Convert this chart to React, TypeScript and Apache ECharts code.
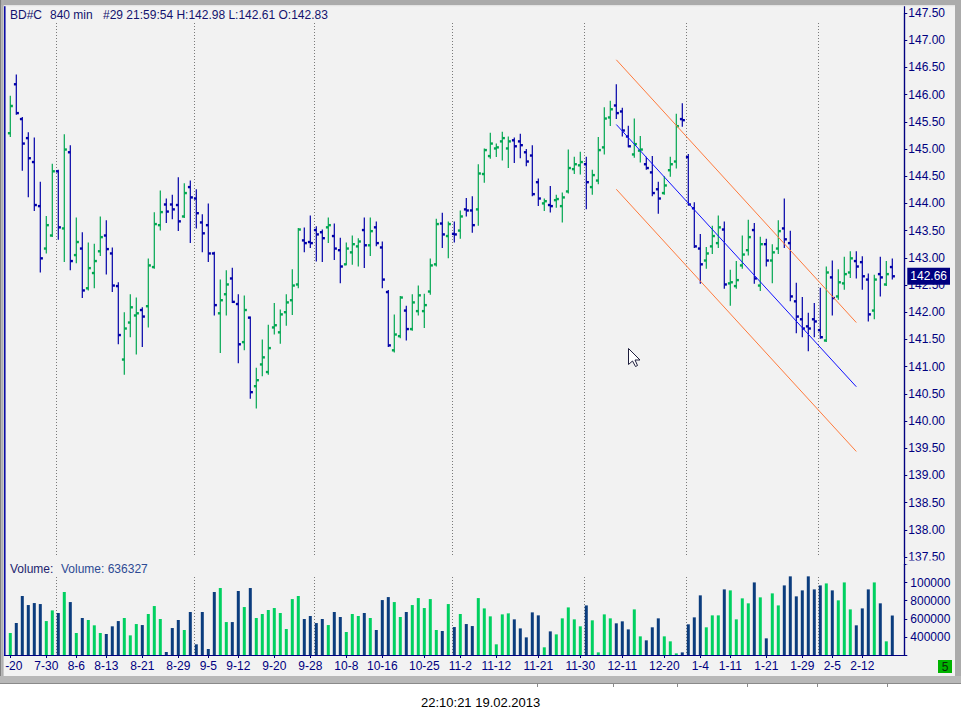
import React, { useEffect, useRef } from "react";
import * as echarts from "echarts";

// ---- data ----
const opens = [
  145.29, 146.19, 145.55, 145.20, 144.76, 143.95, 143.17, 143.41, 144.59, 143.54,
  144.94, 143.05, 143.17, 142.44, 142.72, 143.12, 143.41, 143.08, 142.48, 141.13,
  141.81, 141.94, 142.04, 142.11, 142.83, 143.60, 143.98, 143.98, 143.97, 143.76,
  144.30, 144.09, 143.65, 143.60, 143.08, 141.98, 142.33, 142.62, 142.15, 141.45,
  141.90, 140.64, 141.04, 140.90, 141.72, 141.63, 142.00, 142.22, 142.51, 143.32,
  143.29, 143.51, 143.47, 143.56, 143.40, 143.14, 142.88, 143.10, 143.21, 143.51,
  143.23, 143.56, 143.19, 142.37, 141.30, 141.56, 142.03, 141.69, 142.02, 142.02,
  142.38, 142.88, 143.63, 143.40, 143.44, 143.50, 143.89, 143.87, 143.89, 144.54,
  144.87, 145.01, 145.14, 145.01, 145.16, 145.14, 144.94, 144.88, 144.39, 144.00,
  143.97, 144.06, 143.95, 144.22, 144.63, 144.70, 144.72, 144.30, 144.42, 145.03,
  145.58, 145.80, 145.69, 145.23, 144.90, 144.97, 144.72, 144.57, 144.26, 144.19,
  144.61, 144.77, 145.55, 144.85, 143.91, 143.17, 142.95, 143.21, 143.27, 143.52,
  142.53, 142.48, 142.86, 143.14, 143.51, 142.49, 143.25, 142.95, 143.17, 143.54,
  143.27, 142.20, 141.87, 141.74, 141.87, 141.67, 141.48, 142.64, 142.29, 142.53,
  142.73, 142.94, 142.92, 142.60, 142.03, 142.70, 142.51, 142.83,
];
const highs = [
  145.97, 146.36, 145.58, 145.30, 145.20, 144.39, 143.76, 144.72, 144.61, 145.26,
  145.06, 143.73, 143.46, 143.27, 143.25, 143.75, 143.68, 143.18, 142.54, 141.99,
  142.32, 142.26, 142.08, 142.98, 143.83, 144.23, 144.08, 144.15, 144.47, 144.36,
  144.41, 144.25, 143.79, 143.99, 143.10, 142.59, 142.76, 142.81, 142.32, 142.30,
  141.91, 140.97, 141.49, 141.76, 142.16, 142.04, 142.32, 142.78, 143.54, 143.55,
  143.77, 143.57, 143.51, 143.73, 143.62, 143.36, 143.27, 143.40, 143.35, 143.73,
  143.73, 143.66, 143.29, 142.40, 141.95, 142.29, 142.11, 142.32, 142.48, 142.33,
  142.98, 143.71, 143.82, 143.66, 143.66, 143.86, 144.09, 144.12, 144.71, 145.00,
  145.29, 145.09, 145.31, 145.22, 145.20, 145.27, 144.99, 145.06, 144.45, 144.08,
  144.31, 144.15, 144.19, 144.98, 144.85, 144.94, 144.85, 144.61, 145.21, 145.76,
  145.88, 146.18, 145.75, 145.42, 145.55, 145.23, 144.85, 144.86, 144.39, 144.49,
  144.85, 145.64, 145.83, 144.90, 144.01, 143.43, 143.19, 143.58, 143.77, 143.66,
  142.77, 142.93, 143.40, 143.69, 143.63, 143.38, 143.34, 143.24, 143.68, 144.08,
  143.49, 142.53, 142.27, 141.98, 142.16, 142.44, 142.83, 142.94, 142.78, 143.01,
  143.11, 143.11, 143.02, 142.70, 142.68, 143.01, 142.93, 142.98,
];
const lows = [
  145.23, 145.64, 144.61, 144.12, 143.87, 142.74, 143.09, 143.39, 143.34, 142.93,
  142.78, 142.91, 142.27, 142.41, 142.45, 143.04, 142.70, 142.38, 141.42, 140.86,
  141.55, 141.23, 141.37, 141.73, 142.81, 143.51, 143.65, 143.72, 143.50, 143.74,
  143.28, 143.55, 143.11, 142.93, 141.95, 141.26, 141.95, 142.18, 141.07, 141.31,
  140.42, 140.24, 140.83, 140.86, 141.60, 141.43, 141.76, 141.96, 142.45, 143.11,
  143.19, 142.94, 142.93, 143.28, 142.97, 142.54, 142.87, 142.88, 142.85, 142.82,
  143.04, 143.22, 142.45, 141.37, 141.27, 141.53, 141.49, 141.67, 141.95, 141.72,
  142.33, 142.85, 143.19, 143.00, 143.29, 143.36, 143.77, 143.47, 143.60, 144.39,
  144.83, 144.86, 144.80, 144.66, 144.75, 144.84, 144.69, 144.14, 143.96, 143.87,
  143.84, 143.93, 143.66, 144.19, 144.55, 144.54, 143.90, 144.17, 144.36, 144.91,
  145.43, 145.56, 145.24, 145.04, 144.85, 144.76, 144.63, 144.14, 143.82, 144.17,
  144.50, 144.65, 145.42, 143.97, 143.19, 142.53, 142.81, 143.08, 143.19, 142.44,
  142.13, 142.44, 142.81, 143.05, 142.53, 142.40, 142.85, 142.54, 143.08, 143.19,
  142.21, 141.62, 141.55, 141.29, 141.55, 141.52, 141.46, 141.95, 142.24, 142.42,
  142.64, 142.63, 142.42, 141.84, 141.88, 142.30, 142.49, 142.61,
];
const closes = [
  145.79, 145.66, 145.10, 144.83, 143.97, 142.99, 143.60, 144.59, 143.56, 144.99,
  142.94, 143.29, 142.40, 142.81, 142.94, 143.38, 143.16, 142.49, 141.58, 141.70,
  142.09, 141.98, 141.92, 142.86, 143.62, 143.84, 143.85, 143.89, 143.67, 144.19,
  144.11, 143.82, 143.45, 143.08, 142.13, 142.22, 142.51, 142.19, 141.41, 142.04,
  140.53, 140.75, 141.17, 141.34, 141.76, 141.96, 142.18, 142.49, 143.52, 143.27,
  143.27, 143.43, 143.36, 143.60, 143.17, 142.84, 143.17, 143.25, 143.30, 143.23,
  143.49, 143.27, 142.60, 141.39, 141.59, 142.27, 141.69, 142.18, 142.31, 142.13,
  142.86, 143.62, 143.43, 143.62, 143.43, 143.76, 143.87, 143.60, 144.55, 144.98,
  145.10, 145.03, 145.20, 145.14, 145.05, 145.07, 144.77, 144.17, 144.09, 144.04,
  143.95, 144.08, 144.11, 144.65, 144.72, 144.76, 144.39, 144.52, 144.98, 145.56,
  145.73, 145.66, 145.34, 145.05, 145.09, 144.99, 144.65, 144.19, 144.09, 144.33,
  144.72, 145.42, 145.53, 143.98, 143.21, 142.88, 143.08, 143.40, 143.56, 142.51,
  142.55, 142.59, 143.06, 143.38, 142.62, 143.25, 142.95, 143.10, 143.49, 143.34,
  142.29, 141.92, 141.70, 141.70, 141.83, 141.54, 142.73, 142.26, 142.55, 142.70,
  142.99, 142.84, 142.66, 141.96, 142.60, 142.64, 142.70, 142.66,
];
const volumes = [
  443000, 553000, 852000, 752000, 774000, 763000, 575000, 693000, 664000, 896000,
  785000, 443000, 609000, 587000, 528000, 443000, 432000, 517000, 575000, 609000,
  417000, 542000, 531000, 653000, 741000, 598000, 233000, 498000, 587000, 476000,
  675000, 318000, 675000, 266000, 896000, 940000, 564000, 564000, 907000, 730000,
  940000, 609000, 653000, 697000, 719000, 664000, 487000, 818000, 852000, 598000,
  631000, 553000, 598000, 531000, 675000, 620000, 454000, 653000, 631000, 664000,
  609000, 476000, 807000, 840000, 785000, 620000, 675000, 752000, 829000, 719000,
  818000, 476000, 465000, 763000, 509000, 653000, 542000, 520000, 829000, 715000,
  627000, 318000, 649000, 660000, 594000, 494000, 395000, 671000, 638000, 285000,
  461000, 428000, 605000, 726000, 594000, 517000, 748000, 583000, 229000, 649000,
  605000, 550000, 572000, 483000, 704000, 406000, 362000, 506000, 605000, 406000,
  351000, 218000, 229000, 539000, 616000, 859000, 506000, 638000, 638000, 925000,
  914000, 594000, 826000, 771000, 1002000, 837000, 384000, 881000, 748000, 969000,
  1069000, 848000, 914000, 1069000, 925000, 969000, 991000, 914000, 804000, 1002000,
  704000, 528000, 715000, 925000, 1002000, 771000, 351000, 636327,
];
// category slot of each x-axis label
const tickCats = [1, 7, 12, 17, 23, 29, 34, 39, 45, 51, 57, 63, 70, 76, 82, 89, 96, 103, 110, 116, 121, 127, 133, 138, 143];
const tickLabels = ["-20", "7-30", "8-6", "8-13", "8-21", "8-29", "9-5", "9-12", "9-20", "9-28", "10-8", "10-16", "10-25", "11-2", "11-12", "11-21", "11-30", "12-11", "12-20", "1-4", "1-11", "1-21", "1-29", "2-5", "2-12"];
// month separators (category slot)
const sepCats = [9, 32, 52, 75, 97, 114, 136];
// price channel (category slot, price)
const chanCats = [102, 142];
const chanUpper = [146.64, 141.81];
const chanMid = [145.45, 140.63];
const chanLower = [144.26, 139.44];
const priceTicks = { min: 137.5, max: 147.5, step: 0.5 };
const volTicks = { min: 200000, max: 1200000, step: 200000, shown: [400000, 600000, 800000, 1000000] };

const FONT = "'Liberation Sans', Arial, sans-serif";
const NAVY = "#000080";
const UP = "#00A651";
const DOWN = "#0000A8";
const VUP = "#00D060";
const VDOWN = "#0B3C7D";
const ORANGE = "#FF7A3C";

export default function App() {
  const ref = useRef<HTMLDivElement>(null);

  useEffect(() => {
    if (!ref.current) return;
    const chart = echarts.init(ref.current, undefined, { renderer: "svg" });
    const nCats = opens.length + 3;
    const cats = Array.from({ length: nCats }, (_, i) => String(i));
    const ohlc = opens.map((o, i) => [i + 1, o, closes[i], lows[i], highs[i]]);
    const vol = volumes.map((v, i) => ({
      value: [i + 1, v],
      itemStyle: { color: closes[i] >= opens[i] ? VUP : VDOWN },
    }));
    const tickSet = new Set(tickCats);
    const labelOf = (idx: number) => {
      const k = tickCats.indexOf(idx);
      return k < 0 ? "" : tickLabels[k];
    };
    const lastClose = closes[closes.length - 1];

    const sepRender = (topOff: number) => (params: any, api: any) => {
      const x = Math.round(api.coord([api.value(0), api.value(1)])[0] - 2) + 0.5;
      const cs = params.coordSys;
      return {
        type: "line",
        shape: { x1: x, y1: cs.y + topOff, x2: x, y2: cs.y + cs.height },
        style: { stroke: "#7a7a7a", lineWidth: 1, lineDash: [1, 2] },
        silent: true,
      };
    };

    const option: any = {
      animation: false,
      backgroundColor: "#ffffff",
      grid: [
        { left: 4.3, right: 56.7, top: 13, height: 544, containLabel: false, outerBoundsMode: "none" },
        { left: 4.3, right: 56.7, top: 564.5, height: 90.5, containLabel: false, outerBoundsMode: "none" },
      ],
      xAxis: [
        { type: "category", gridIndex: 0, data: cats, boundaryGap: false, show: false },
        {
          type: "category",
          gridIndex: 1,
          data: cats,
          boundaryGap: false,
          axisLine: { show: true, lineStyle: { color: NAVY, width: 1.2 } },
          axisTick: { show: true, length: 3, interval: (i: number) => tickSet.has(i), lineStyle: { color: NAVY } },
          axisLabel: {
            interval: (i: number) => tickSet.has(i),
            formatter: (_v: string, i: number) => (i === tickCats[0] ? "{a|" + labelOf(i) + "}" : labelOf(i)),
            margin: 5,
            color: NAVY,
            fontSize: 12,
            fontFamily: FONT,
            rich: { a: { padding: [0, 0, 0, 7], color: NAVY, fontSize: 12, fontFamily: FONT } },
          },
          splitLine: { show: false },
        },
      ],
      yAxis: [
        {
          type: "value",
          gridIndex: 0,
          position: "right",
          min: priceTicks.min,
          max: priceTicks.max,
          interval: priceTicks.step,
          axisLine: { show: true, lineStyle: { color: NAVY, width: 1.2 } },
          axisTick: { show: true, length: 3, lineStyle: { color: NAVY } },
          axisLabel: {
            margin: 4,
            color: NAVY,
            fontSize: 12,
            fontFamily: FONT,
            showMinLabel: true,
            showMaxLabel: true,
            formatter: (v: number) => v.toFixed(2),
          },
          splitLine: { show: false },
        },
        {
          type: "value",
          gridIndex: 1,
          position: "right",
          min: volTicks.min,
          max: volTicks.max,
          interval: volTicks.step,
          axisLine: { show: true, lineStyle: { color: NAVY, width: 1.2 } },
          axisTick: { show: true, length: 3, lineStyle: { color: NAVY } },
          axisLabel: {
            margin: 6,
            color: NAVY,
            fontSize: 12,
            fontFamily: FONT,
            formatter: (v: number) =>
              volTicks.shown.indexOf(v) < 0 ? "" : v === 1000000 ? "100000" : String(v),
          },
          splitLine: { show: false },
        },
      ],
      series: [
        {
          type: "custom",
          name: "sepPrice",
          xAxisIndex: 0,
          yAxisIndex: 0,
          silent: true,
          z: 1,
          data: sepCats.map((c) => [c, 140]),
          encode: { x: 0, y: 1 },
          renderItem: sepRender(10),
        },
        {
          type: "custom",
          name: "sepVol",
          xAxisIndex: 1,
          yAxisIndex: 1,
          silent: true,
          z: 1,
          data: sepCats.map((c) => [c, 300000]),
          encode: { x: 0, y: 1 },
          renderItem: sepRender(12.5),
        },
        {
          type: "custom",
          name: "BD#C",
          xAxisIndex: 0,
          yAxisIndex: 0,
          data: ohlc,
          encode: { x: 0, y: [1, 2, 3, 4] },
          z: 3,
          renderItem: (_params: any, api: any) => {
            const cat = api.value(0);
            const o = api.value(1);
            const c = api.value(2);
            const pO = api.coord([cat, o]);
            const pC = api.coord([cat, c]);
            const pL = api.coord([cat, api.value(3)]);
            const pH = api.coord([cat, api.value(4)]);
            const x = pO[0];
            const col = c >= o ? UP : DOWN;
            return {
              type: "group",
              children: [
                { type: "line", shape: { x1: x, y1: pH[1] - 0.5, x2: x, y2: pL[1] + 0.5 }, style: { stroke: col, lineWidth: 1.2 } },
                { type: "rect", shape: { x: x - 2.4, y: pO[1] - 1.2, width: 2.4, height: 2.4 }, style: { fill: col } },
                { type: "rect", shape: { x: x, y: pC[1] - 1.2, width: 2.6, height: 2.4 }, style: { fill: col } },
              ],
            };
          },
        },
        {
          type: "line",
          name: "upper",
          xAxisIndex: 0,
          yAxisIndex: 0,
          data: chanCats.map((c, i) => [c, chanUpper[i]]),
          symbol: "none",
          silent: true,
          z: 4,
          lineStyle: { color: ORANGE, width: 1 },
        },
        {
          type: "line",
          name: "lower",
          xAxisIndex: 0,
          yAxisIndex: 0,
          data: chanCats.map((c, i) => [c, chanLower[i]]),
          symbol: "none",
          silent: true,
          z: 4,
          lineStyle: { color: ORANGE, width: 1 },
        },
        {
          type: "line",
          name: "mid",
          xAxisIndex: 0,
          yAxisIndex: 0,
          data: chanCats.map((c, i) => [c, chanMid[i]]),
          symbol: "none",
          silent: true,
          z: 4,
          lineStyle: { color: "#1010FF", width: 1 },
        },
        {
          type: "line",
          name: "last",
          xAxisIndex: 0,
          yAxisIndex: 0,
          data: [],
          symbol: "none",
          silent: true,
          z: 20,
          markLine: {
            silent: true,
            symbol: "none",
            animation: false,
            lineStyle: { color: "rgba(0,0,0,0)", width: 0, opacity: 1 },
            data: [{ yAxis: lastClose }],
            label: {
              show: true,
              position: "end",
              distance: 3,
              formatter: () => lastClose.toFixed(2),
              color: "#ffffff",
              backgroundColor: NAVY,
              opacity: 1,
              padding: [3, 3, 2, 3],
              fontSize: 12,
              fontFamily: FONT,
            },
            emphasis: { disabled: true },
          },
        },
        {
          type: "bar",
          name: "Volume",
          xAxisIndex: 1,
          yAxisIndex: 1,
          data: vol,
          barWidth: 3,
          z: 3,
        },
      ],
      graphic: [
        { type: "rect", z: -100, silent: true, shape: { x: 0, y: 0, width: 961, height: 683 }, style: { fill: "#F2F2F2" } },
        // frame
        { type: "rect", z: 100, silent: true, shape: { x: 0, y: 0, width: 961, height: 5 }, style: { fill: "#ABABAB" } },
        { type: "rect", z: 100, silent: true, shape: { x: 0, y: 5, width: 961, height: 1.2 }, style: { fill: "#E4E4E4" } },
        { type: "rect", z: 100, silent: true, shape: { x: 0, y: 0, width: 1.2, height: 683 }, style: { fill: "#808080" } },
        { type: "rect", z: 100, silent: true, shape: { x: 1.2, y: 0, width: 2.4, height: 683 }, style: { fill: "#B0B0B0" } },
        { type: "rect", z: 100, silent: true, shape: { x: 955, y: 0, width: 6, height: 683 }, style: { fill: "#ABABAB" } },
        { type: "rect", z: 100, silent: true, shape: { x: 0, y: 676, width: 961, height: 7 }, style: { fill: "#B8B8B8" } },
        { type: "line", z: 100, silent: true, shape: { x1: 0, y1: 683.5, x2: 961, y2: 683.5 }, style: { stroke: "#8A8A8A", lineWidth: 1 } },
        ...[537, 613, 677, 747, 817, 887].map((x) => ({
          type: "line", z: 100, silent: true,
          shape: { x1: x + 0.5, y1: 683, x2: x + 0.5, y2: 687 },
          style: { stroke: "#8A8A8A", lineWidth: 1 },
        })),
        { type: "rect", z: 50, silent: true, shape: { x: 906, y: 560.5, width: 49, height: 4 }, style: { fill: "#F2F2F2" } },
        { type: "line", z: 60, silent: true, shape: { x1: 4.8, y1: 6, x2: 4.8, y2: 655.5 }, style: { stroke: "#0000A0", lineWidth: 1.5 } },
        { type: "line", z: 60, silent: true, shape: { x1: 904.5, y1: 6, x2: 904.5, y2: 655.5 }, style: { stroke: NAVY, lineWidth: 1.2 } },
        // header texts
        { type: "text", z: 60, silent: true, x: 10, y: 14.5, style: { text: "BD#C", fill: "#12126E", fontSize: 12, fontFamily: FONT, verticalAlign: "middle" } },
        { type: "text", z: 60, silent: true, x: 50, y: 14.5, style: { text: "840 min", fill: "#12126E", fontSize: 12, fontFamily: FONT, verticalAlign: "middle" } },
        { type: "text", z: 60, silent: true, x: 103, y: 14.5, style: { text: "#29 21:59:54 H:142.98 L:142.61 O:142.83", fill: "#12126E", fontSize: 12, fontFamily: FONT, verticalAlign: "middle" } },
        { type: "text", z: 60, silent: true, x: 10, y: 568.5, style: { text: "Volume:", fill: "#22226E", fontSize: 12, fontFamily: FONT, verticalAlign: "middle" } },
        { type: "text", z: 60, silent: true, x: 61, y: 568.5, style: { text: "Volume: " + volumes[volumes.length - 1], fill: "#2D4A94", fontSize: 12, fontFamily: FONT, verticalAlign: "middle" } },
        // status
        { type: "rect", z: 60, silent: true, shape: { x: 938, y: 660, width: 14, height: 13 }, style: { fill: "#00B400" } },
        { type: "text", z: 61, silent: true, x: 945, y: 667, style: { text: "5", fill: "#0A2A0A", fontSize: 12, fontFamily: FONT, align: "center", verticalAlign: "middle" } },
        { type: "text", z: 60, silent: true, x: 421, y: 702.5, style: { text: "22:10:21 19.02.2013", fill: "#000000", fontSize: 13, fontFamily: FONT, verticalAlign: "middle" } },
        // mouse cursor
        {
          type: "polygon", z: 120, silent: true, x: 628.5, y: 348.5,
          shape: { points: [[0, 0], [0, 16], [4, 12.5], [7, 18], [9, 17], [6.5, 11.5], [11.5, 11.5]] },
          style: { fill: "#FFFFFF", stroke: "#1E1E3C", lineWidth: 1 },
        },
      ],
    };
    chart.setOption(option);
    return () => chart.dispose();
  }, []);

  return <div ref={ref} style={{ position: "absolute", left: 0, top: 0, width: 961, height: 719 }} />;
}
